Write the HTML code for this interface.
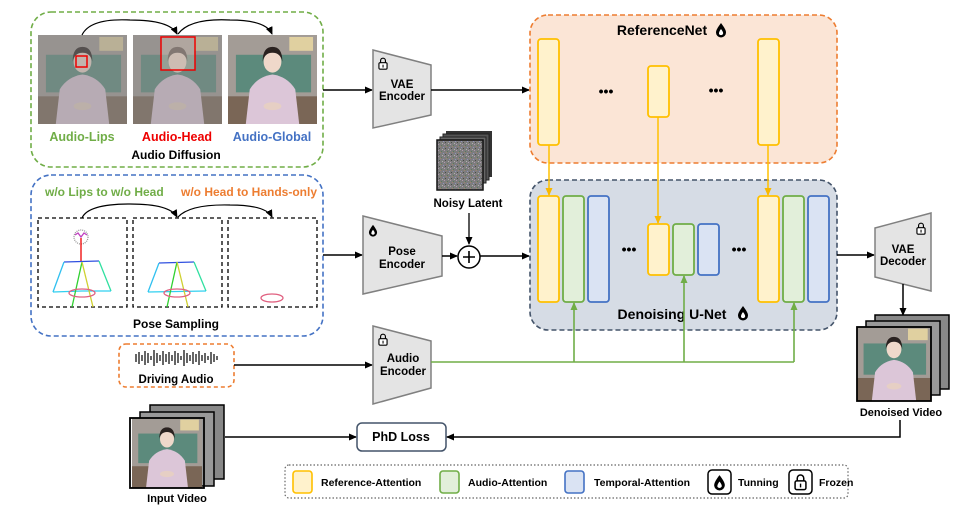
<!DOCTYPE html>
<html><head><meta charset="utf-8"><style>
html,body{margin:0;padding:0;background:#fff;}
svg{display:block;font-family:"Liberation Sans",sans-serif;font-weight:bold;}
</style></head><body>
<svg width="965" height="511" viewBox="0 0 965 511" xmlns="http://www.w3.org/2000/svg">
<defs>
<marker id="ab" markerWidth="8" markerHeight="8" refX="7" refY="4" orient="auto" markerUnits="userSpaceOnUse"><path d="M0,0.5 L8,4 L0,7.5 z" fill="#000"/></marker>
<marker id="ay" markerWidth="8" markerHeight="8" refX="7" refY="4" orient="auto" markerUnits="userSpaceOnUse"><path d="M0,0.5 L8,4 L0,7.5 z" fill="#f9b800"/></marker>
<marker id="ag" markerWidth="8" markerHeight="8" refX="7" refY="4" orient="auto" markerUnits="userSpaceOnUse"><path d="M0,0.5 L8,4 L0,7.5 z" fill="#70ad47"/></marker>
<symbol id="pic" viewBox="0 0 90 90">
<rect width="90" height="90" fill="#a39c96"/>
<rect x="8" y="20" width="76" height="38" fill="#5c8a7c"/>
<rect x="62" y="2" width="24" height="14" fill="#e0d0a0"/>
<rect x="0" y="62" width="90" height="28" fill="#7a6656"/>
<path d="M18,90 L22,55 Q30,42 45,40 Q60,42 68,55 L72,90 z" fill="#dcc6d8"/>
<ellipse cx="45" cy="27" rx="9" ry="11" fill="#efd8ca"/>
<path d="M35,27 Q35,12 45,12 Q55,12 55,27 Q53,18 45,18 Q37,18 35,27z" fill="#2a2220"/>
<ellipse cx="45" cy="72" rx="9" ry="4" fill="#e6cfc4"/>
</symbol>
<pattern id="np" width="6" height="6" patternUnits="userSpaceOnUse">
<rect width="6" height="6" fill="#7d7d7d"/>
<rect x="0" y="0" width="1" height="1" fill="#b09ab0"/><rect x="3" y="1" width="1" height="1" fill="#5a7a5a"/><rect x="5" y="3" width="1" height="1" fill="#9090c0"/><rect x="1" y="4" width="1" height="1" fill="#4a4a4a"/><rect x="4" y="5" width="1" height="1" fill="#b0b0b0"/><rect x="2" y="2" width="1" height="1" fill="#a08070"/>
</pattern>
<symbol id="lock" viewBox="0 0 12 16">
<path d="M3,7 V4.5 A3,3 0 0 1 9,4.5 V7" fill="none" stroke="#000" stroke-width="1.4"/>
<rect x="1" y="7" width="10" height="8" rx="1.5" fill="#fff" stroke="#000" stroke-width="1.4"/>
<rect x="5.4" y="9.5" width="1.3" height="3.5" fill="#000"/>
</symbol>
<symbol id="drop" viewBox="0 0 12 16">
<path d="M6,1 C9,5 11,8 11,10.5 A5,5 0 0 1 1,10.5 C1,8 3,5 6,1z" fill="#000"/>
<path d="M6,7 C7.5,9 8.5,10.5 8,12 A2.3,2.3 0 0 1 4,12 C3.8,10.5 4.5,9 6,7z" fill="#fff"/>
</symbol>
</defs>

<rect x="31" y="12" width="292" height="155" rx="20" fill="none" stroke="#70ad47" stroke-width="1.6" stroke-dasharray="5,3"/>
<use href="#pic" x="38" y="35" width="89" height="89"/>
<rect x="38" y="35" width="89" height="89" fill="#8a8a8a" opacity="0.45"/>
<rect x="76" y="56" width="11" height="11" fill="none" stroke="#e00" stroke-width="1.5"/>
<use href="#pic" x="133" y="35" width="89" height="89"/>
<rect x="133" y="35" width="89" height="89" fill="#8a8a8a" opacity="0.45"/>
<rect x="161" y="37" width="34" height="33" fill="#ecd3c5" opacity="0.3"/>
<rect x="161" y="37" width="34" height="33" fill="none" stroke="#e00" stroke-width="1.5"/>
<use href="#pic" x="228" y="35" width="89" height="89"/>
<path d="M82,35 Q90,18 130,20 Q170,20 177,34" fill="none" stroke="#000" stroke-width="1.2" marker-end="url(#ab)"/>
<path d="M178,34 Q190,18 230,20 Q266,20 272,34" fill="none" stroke="#000" stroke-width="1.2" marker-end="url(#ab)"/>
<text x="82" y="141" font-size="12.5" fill="#70ad47" text-anchor="middle">Audio-Lips</text>
<text x="177" y="141" font-size="12.5" fill="#e00" text-anchor="middle">Audio-Head</text>
<text x="272" y="141" font-size="12.5" fill="#4472c4" text-anchor="middle">Audio-Global</text>
<text x="176" y="159" font-size="12" fill="#000" text-anchor="middle">Audio Diffusion</text>

<rect x="31" y="175" width="292" height="161" rx="20" fill="none" stroke="#4472c4" stroke-width="1.6" stroke-dasharray="5,3"/>
<text x="45" y="196" font-size="12" fill="#70ad47">w/o Lips to w/o Head</text>
<text x="181" y="196" font-size="12" fill="#ed7d31">w/o Head to Hands-only</text>
<g fill="none" stroke="#000" stroke-width="1.3" stroke-dasharray="4,3">
<rect x="38" y="218" width="89" height="89"/><rect x="133" y="218" width="89" height="89"/><rect x="228" y="218" width="89" height="89"/>
</g>
<path d="M82,218 Q88,204 130,204 Q170,204 177,217" fill="none" stroke="#000" stroke-width="1.2" marker-end="url(#ab)"/>
<path d="M178,217 Q190,204 230,205 Q266,205 272,217" fill="none" stroke="#000" stroke-width="1.2" marker-end="url(#ab)"/>
<g stroke-width="1.3" fill="none">
<circle cx="81" cy="237" r="7" stroke="#999" stroke-dasharray="1,1"/>
<path d="M75,235 L78,233 L81,237 L84,233 L87,235" stroke="#c040c0"/>
<line x1="81" y1="238" x2="81" y2="262" stroke="#e00"/>
<path d="M64,262 L99,261" stroke="#3050e0"/><path d="M64,262 L53,292" stroke="#30c0f0"/><path d="M99,261 L111,291" stroke="#30e0a0"/>
<path d="M53,292 L82,291 L111,291" stroke="#30d0f0"/>
<path d="M82,262 L72,307" stroke="#30d030"/><path d="M82,262 L93,307" stroke="#d0d030"/>
<ellipse cx="82" cy="293" rx="13" ry="4" stroke="#e06080"/>
<path d="M159,263 L194,262" stroke="#3050e0"/><path d="M159,263 L148,292" stroke="#30c0f0"/><path d="M194,262 L206,291" stroke="#30e0a0"/>
<path d="M148,292 L206,291" stroke="#30d0f0"/>
<path d="M177,262 L167,307" stroke="#30d030"/><path d="M177,262 L188,307" stroke="#d0d030"/>
<ellipse cx="177" cy="293" rx="13" ry="4" stroke="#e06080"/>
<ellipse cx="272" cy="298" rx="11" ry="4" stroke="#e06080"/>
</g>
<text x="176" y="328" font-size="12" fill="#000" text-anchor="middle">Pose Sampling</text>

<line x1="323" y1="90" x2="372" y2="90" stroke="#000" stroke-width="1.5" marker-end="url(#ab)"/>
<polygon points="373,50 431,65 431,115 373,128" fill="#e4e4e4" stroke="#808080" stroke-width="1.5"/>
<use href="#lock" x="378" y="57" width="10" height="13"/>
<text x="402" y="88" font-size="11.5" text-anchor="middle">VAE</text>
<text x="402" y="100" font-size="11.5" text-anchor="middle">Encoder</text>
<line x1="431" y1="90" x2="529" y2="90" stroke="#000" stroke-width="1.5" marker-end="url(#ab)"/>

<rect x="446" y="131" width="46" height="46" fill="#333"/>
<rect x="443" y="134" width="46" height="46" fill="#555" stroke="#222"/>
<rect x="440" y="137" width="46" height="46" fill="#666" stroke="#222"/>
<rect x="437" y="140" width="46" height="50" fill="url(#np)" stroke="#111" stroke-width="1.5"/>
<text x="468" y="207" font-size="11.5" text-anchor="middle">Noisy Latent</text>
<line x1="469" y1="213" x2="469" y2="244" stroke="#000" stroke-width="1.3" marker-end="url(#ab)"/>
<circle cx="469" cy="257" r="11" fill="#fff" stroke="#000" stroke-width="1.5"/>
<path d="M463,257 H475 M469,251 V263" stroke="#000" stroke-width="1.6"/>

<line x1="323" y1="255" x2="362" y2="255" stroke="#000" stroke-width="1.5" marker-end="url(#ab)"/>
<polygon points="363,216 442,236 442,276 363,294" fill="#e4e4e4" stroke="#808080" stroke-width="1.5"/>
<use href="#drop" x="368" y="224" width="10" height="13"/>
<text x="402" y="255" font-size="11.5" text-anchor="middle">Pose</text>
<text x="402" y="268" font-size="11.5" text-anchor="middle">Encoder</text>
<line x1="442" y1="256" x2="457" y2="256" stroke="#000" stroke-width="1.5" marker-end="url(#ab)"/>
<line x1="480" y1="256" x2="529" y2="256" stroke="#000" stroke-width="1.5" marker-end="url(#ab)"/>

<rect x="530" y="15" width="307" height="148" rx="18" fill="#fbe5d6" stroke="#ed7d31" stroke-width="1.6" stroke-dasharray="5,3"/>
<text x="662" y="35" font-size="14" text-anchor="middle">ReferenceNet</text>
<use href="#drop" x="715" y="22" width="12" height="16"/>
<g fill="#fff2cc" stroke="#ffc000" stroke-width="1.8">
<rect x="538" y="39" width="21" height="106" rx="3"/><rect x="648" y="66" width="21" height="51" rx="3"/><rect x="758" y="39" width="21" height="106" rx="3"/>
</g>
<text x="606" y="96" font-size="14" text-anchor="middle">•••</text>
<text x="716" y="95" font-size="14" text-anchor="middle">•••</text>

<rect x="530" y="180" width="307" height="150" rx="18" fill="#d6dce5" stroke="#44546a" stroke-width="1.6" stroke-dasharray="5,3"/>
<g stroke-width="1.8">
<rect x="538" y="196" width="21" height="106" rx="3" fill="#fff2cc" stroke="#ffc000"/>
<rect x="563" y="196" width="21" height="106" rx="3" fill="#e2efda" stroke="#70ad47"/>
<rect x="588" y="196" width="21" height="106" rx="3" fill="#dae3f3" stroke="#4472c4"/>
<rect x="648" y="224" width="21" height="51" rx="3" fill="#fff2cc" stroke="#ffc000"/>
<rect x="673" y="224" width="21" height="51" rx="3" fill="#e2efda" stroke="#70ad47"/>
<rect x="698" y="224" width="21" height="51" rx="3" fill="#dae3f3" stroke="#4472c4"/>
<rect x="758" y="196" width="21" height="106" rx="3" fill="#fff2cc" stroke="#ffc000"/>
<rect x="783" y="196" width="21" height="106" rx="3" fill="#e2efda" stroke="#70ad47"/>
<rect x="808" y="196" width="21" height="106" rx="3" fill="#dae3f3" stroke="#4472c4"/>
</g>
<text x="629" y="254" font-size="14" text-anchor="middle">•••</text>
<text x="739" y="254" font-size="14" text-anchor="middle">•••</text>
<text x="672" y="319" font-size="14" text-anchor="middle">Denoising U-Net</text>
<use href="#drop" x="737" y="305" width="12" height="16"/>
<g stroke="#ffc000" stroke-width="1.5">
<line x1="549" y1="145" x2="549" y2="195" marker-end="url(#ay)"/>
<line x1="658" y1="117" x2="658" y2="223" marker-end="url(#ay)"/>
<line x1="768" y1="145" x2="768" y2="195" marker-end="url(#ay)"/>
</g>

<line x1="837" y1="255" x2="874" y2="255" stroke="#000" stroke-width="1.5" marker-end="url(#ab)"/>
<polygon points="875,228 931,213 931,291 875,277" fill="#e4e4e4" stroke="#808080" stroke-width="1.5"/>
<use href="#lock" x="916" y="222" width="10" height="13"/>
<text x="903" y="253" font-size="11.5" text-anchor="middle">VAE</text>
<text x="903" y="265" font-size="11.5" text-anchor="middle">Decoder</text>
<line x1="903" y1="284" x2="903" y2="315" stroke="#000" stroke-width="1.5" marker-end="url(#ab)"/>
<rect x="875" y="315" width="74" height="74" fill="#888" stroke="#000" stroke-width="1.5"/>
<rect x="866" y="321" width="74" height="74" fill="#999" stroke="#000" stroke-width="1.5"/>
<use href="#pic" x="857" y="327" width="74" height="74"/>
<rect x="857" y="327" width="74" height="74" fill="none" stroke="#000" stroke-width="1.8"/>
<text x="901" y="416" font-size="11" text-anchor="middle">Denoised Video</text>

<rect x="119" y="344" width="115" height="43" rx="7" fill="none" stroke="#ed7d31" stroke-width="1.6" stroke-dasharray="4,3"/>
<g stroke="#333" stroke-width="1.5">
<path d="M136,354v8 M139,352v12 M142,355v6 M145,351v14 M148,353v10 M151,356v4 M154,350v16 M157,353v10 M160,355v6 M163,351v14 M166,354v8 M169,352v12 M172,355v6 M175,351v14 M178,353v10 M181,356v4 M184,350v16 M187,353v10 M190,355v6 M193,352v12 M196,354v8 M199,351v14 M202,355v6 M205,353v10 M208,356v4 M211,352v12 M214,354v8 M217,356v4"/>
</g>
<text x="176" y="383" font-size="11.5" text-anchor="middle">Driving Audio</text>
<line x1="234" y1="365" x2="372" y2="365" stroke="#000" stroke-width="1.5" marker-end="url(#ab)"/>
<polygon points="373,326 431,341 431,388 373,404" fill="#e4e4e4" stroke="#808080" stroke-width="1.5"/>
<use href="#lock" x="378" y="333" width="10" height="13"/>
<text x="403" y="362" font-size="11.5" text-anchor="middle">Audio</text>
<text x="403" y="375" font-size="11.5" text-anchor="middle">Encoder</text>
<g stroke="#70ad47" stroke-width="1.6" fill="none">
<path d="M431,362 H794"/>
<line x1="574" y1="362" x2="574" y2="303" marker-end="url(#ag)"/>
<line x1="684" y1="362" x2="684" y2="276" marker-end="url(#ag)"/>
<line x1="794" y1="362" x2="794" y2="303" marker-end="url(#ag)"/>
</g>

<rect x="150" y="405" width="74" height="74" fill="#888" stroke="#000" stroke-width="1.5"/>
<rect x="140" y="412" width="74" height="74" fill="#999" stroke="#000" stroke-width="1.5"/>
<use href="#pic" x="130" y="418" width="74" height="70"/>
<rect x="130" y="418" width="74" height="70" fill="none" stroke="#000" stroke-width="1.8"/>
<text x="177" y="502" font-size="11" text-anchor="middle">Input Video</text>
<line x1="225" y1="437" x2="356" y2="437" stroke="#000" stroke-width="1.5" marker-end="url(#ab)"/>
<rect x="357" y="423" width="89" height="28" rx="5" fill="#fff" stroke="#44546a" stroke-width="1.5"/>
<text x="401" y="441" font-size="12.5" text-anchor="middle">PhD Loss</text>
<path d="M900,420 V437 H447" fill="none" stroke="#000" stroke-width="1.5" marker-end="url(#ab)"/>

<rect x="285" y="465" width="563" height="33" rx="4" fill="none" stroke="#666" stroke-width="1.2" stroke-dasharray="1.5,2"/>
<rect x="293" y="471" width="19" height="22" rx="3" fill="#fff2cc" stroke="#ffc000" stroke-width="1.6"/>
<text x="321" y="486" font-size="10.5">Reference-Attention</text>
<rect x="440" y="471" width="19" height="22" rx="3" fill="#e2efda" stroke="#70ad47" stroke-width="1.6"/>
<text x="468" y="486" font-size="10.5">Audio-Attention</text>
<rect x="565" y="471" width="19" height="22" rx="3" fill="#dae3f3" stroke="#4472c4" stroke-width="1.6"/>
<text x="594" y="486" font-size="10.5">Temporal-Attention</text>
<rect x="708" y="470" width="23" height="24" rx="4" fill="#fff" stroke="#000" stroke-width="1.5"/>
<use href="#drop" x="713" y="474" width="13" height="17"/>
<text x="738" y="486" font-size="10.5">Tunning</text>
<rect x="789" y="470" width="23" height="24" rx="4" fill="#fff" stroke="#000" stroke-width="1.5"/>
<use href="#lock" x="794" y="473" width="13" height="18"/>
<text x="819" y="486" font-size="10.5">Frozen</text>
</svg>
</body></html>
